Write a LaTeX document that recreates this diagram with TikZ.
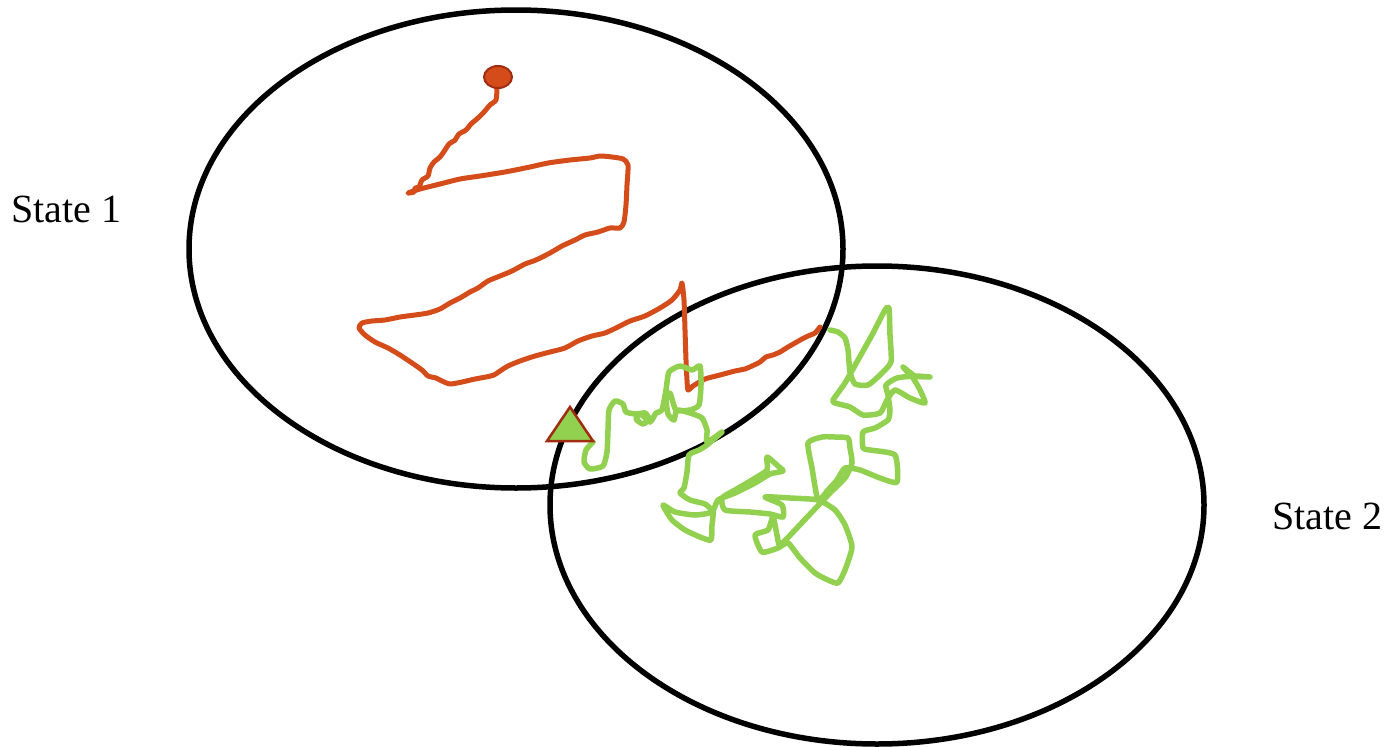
\documentclass[tikz,border=0pt]{standalone}
\usepackage{fontspec}
\setmainfont{Liberation Serif}
\definecolor{walkred}{RGB}{212,76,26}
\definecolor{walkredline}{RGB}{160,45,15}
\definecolor{walkgreen}{RGB}{146,208,80}
\begin{document}
\begin{tikzpicture}[x=1pt,y=-1pt,
  stateell/.style={draw=black,line width=5.5pt},
  statelabel/.style={font=\fontsize{40}{46}\selectfont,anchor=base west,inner sep=0pt},
  redwalk/.style={draw=walkred,line width=5pt,line cap=round,line join=round},
  greenwalk/.style={draw=walkgreen,line width=5.5pt,line cap=round,line join=round},
  startdot/.style={fill=walkred,draw=walkredline,line width=2pt},
  starttri/.style={fill=walkgreen,draw=walkredline,line width=2.5pt,line join=miter}]
\useasboundingbox (0,0) rectangle (1393,747);
\fill[white] (0,0) rectangle (1393,747);
% states
\coordinate (c1) at (516,249);
\coordinate (c2) at (877,505);
\draw[stateell] (c1) ellipse [x radius=327, y radius=239];
\draw[stateell] (c2) ellipse [x radius=327, y radius=239];
\node[statelabel] (l1) at (11,222) {State 1};
\node[statelabel] (l2) at (1272,529) {State 2};
% red walk
\draw[redwalk] plot[smooth,tension=0.4] coordinates {
(497,88) (496,100) (490,105) (484,112) (478,118) (471,124) (466,130) (459,134) (455,140) (449,144) (445,150) (440,157) (434,162) (430,168) (428,176) (422,180) (419,187) (415,188) (414,192) (408,193)
(420,189) (440,184) (460,179) (480,176) (505,172) (530,167) (548,163) (570,160) (590,158) (600,156) (612,157) (623,159) (628,165) (627,185) (626,205) (624,222) (620,228) (610,228) (598,232) (585,235) (575,240) (562,246) (550,253) (536,260) (525,264) (512,271) (500,276) (488,281) (478,288) (470,292) (460,298) (450,303) (440,309) (428,313) (415,315) (400,317) (385,320) (372,321) (362,323) (359,328) (365,335) (375,342) (388,348) (400,355) (412,363) (422,370) (428,376) (436,378) (442,381) (450,384) (462,382) (475,379) (486,377) (494,375) (500,371) (508,366) (520,361) (535,356) (550,352) (565,348) (578,341) (592,336) (605,333) (618,327) (630,321) (645,316) (660,308) (672,300) (680,290) (682,283) (684,300) (685,330) (686,360) (687,380) (688,390) (693,386) (705,379) (720,375) (735,371) (745,369) (752,366) (760,362) (766,357) (773,355) (780,352) (788,347) (795,343) (802,339) (808,336) (815,333) (820,327)};
% green walk
\draw[greenwalk] plot[smooth,tension=0.35] coordinates {
(593,442) (586,450) (584,462) (590,469) (603,466) (607,452) (608,430) (609,410) (615,401) (623,404) (626,412) (636,414) (645,413) (649,419) (643,424) (636,419) (641,414) (650,422) (656,413) (662,410) (666,390) (669,372) (680,366) (692,370) (700,366) (701,385) (699,405) (690,410) (676,410) (670,393) (666,398) (668,414) (674,420) (677,410) (690,413) (702,418) (707,430) (707,442) (722,432) (707,445) (699,450) (689,455) (687,472) (684,488) (680,493) (690,500) (705,504) (713,512) (712,525) (711,540) (700,537) (685,530) (672,520) (663,505) (675,512) (695,515) (712,512) (718,500) (735,493) (755,483) (770,474) (783,471) (778,466) (767,457) (767,470) (752,480) (735,490) (722,498) (725,510) (750,512) (770,514) (783,517) (782,505) (765,497) (790,498) (818,500) (835,510) (845,525) (852,547) (845,570) (838,583) (828,580) (815,573) (800,558) (788,543) (778,548) (762,552) (755,535) (768,530) (773,517) (777,535) (780,545) (795,530) (812,512) (830,493) (845,478) (852,463) (850,448) (848,438) (835,437) (822,437) (808,443) (812,468) (818,500) (828,490) (837,480) (845,468) (860,470) (880,478) (897,482) (895,455) (870,450) (863,448) (863,432) (875,428) (888,420) (890,410) (888,395) (886,385) (897,378) (915,376) (930,377) (915,376) (903,367) (913,378) (920,390) (925,403) (910,398) (895,390) (887,400) (880,413) (863,415) (850,407) (835,403) (833,400) (845,383) (858,360) (872,335) (885,310) (889,308) (890,335) (891,362) (880,375) (868,385) (855,384) (850,372) (848,350) (845,338) (838,332) (830,330)};
% start markers
\draw[startdot] (498,77) ellipse [x radius=14, y radius=11];
\draw[starttri] (547,441) -- (570,407) -- (593,441) -- cycle;
\end{tikzpicture}
\end{document}
